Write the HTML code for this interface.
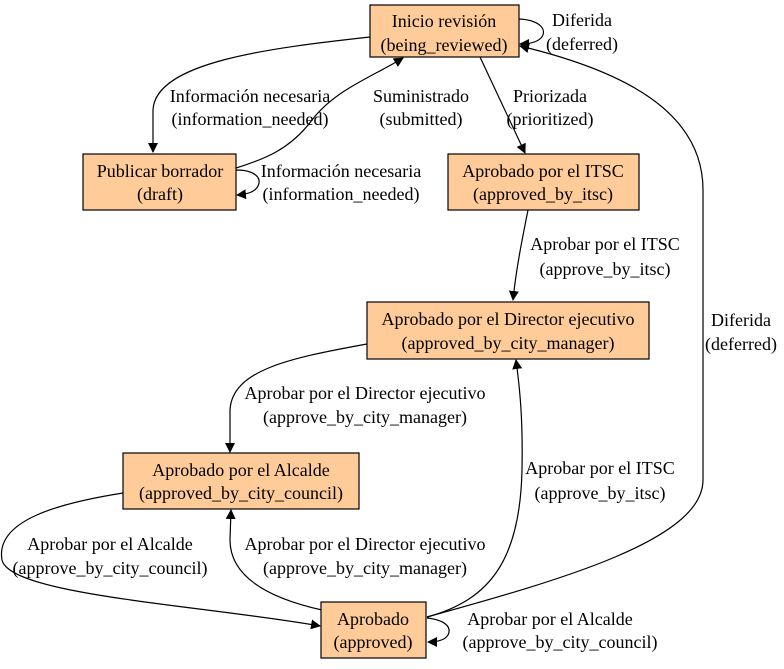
<!DOCTYPE html>
<html><head><meta charset="utf-8"><style>
html,body{margin:0;padding:0;background:#fff;}
</style></head><body>
<svg width="784" height="664" viewBox="0 0 784 664" xmlns="http://www.w3.org/2000/svg">
<defs>
<marker id="a" markerWidth="10" markerHeight="10" refX="9" refY="5" orient="auto" markerUnits="userSpaceOnUse">
<path d="M0,0 L10,5 L0,10 Z" fill="#000"/>
</marker>
</defs>
<g fill="none" stroke="#000" stroke-width="1.2">
<path d="M370,37 C 270,48 155,62 153,110 L153,152" marker-end="url(#a)"/>
<path d="M236,168 C 262,160 290,150 312,120 C 335,90 370,78 403,58" marker-end="url(#a)"/>
<path d="M519,19 C 540,20 548,30 541,38 C 537,42 530,44 520,44" marker-end="url(#a)"/>
<path d="M236,170 C 255,170 262,178 258,186 C 255,192 248,194 237,195" marker-end="url(#a)"/>
<path d="M480,57 L525,153" marker-end="url(#a)"/>
<path d="M528,210 C 522,240 516,270 513,300" marker-end="url(#a)"/>
<path d="M367,344 C 290,358 232,370 230,410 L230,452" marker-end="url(#a)"/>
<path d="M123,493 C 60,503 -5,520 2,560 C 10,595 200,605 320,626" marker-end="url(#a)"/>
<path d="M322,610 C 255,595 230,570 230,540 L231,510" marker-end="url(#a)"/>
<path d="M427,617 C 490,600 520,560 522,470 C 523,420 520,390 516,360" marker-end="url(#a)"/>
<path d="M427,617 C 560,580 703,540 703,480 L703,190 C 703,110 620,70 520,46" marker-end="url(#a)"/>
<path d="M427,618 C 445,620 452,627 448,635 C 445,640 438,642 428,642" marker-end="url(#a)"/>
</g>
<g fill="#ffcc99" stroke="#000" stroke-width="1.2">
<rect x="370" y="5" width="149" height="52"/>
<rect x="83" y="154" width="153" height="56"/>
<rect x="448" y="154" width="191" height="56"/>
<rect x="367" y="302" width="282" height="57"/>
<rect x="123" y="453" width="236" height="56"/>
<rect x="321" y="602" width="105" height="56"/>
</g>
<g text-anchor="middle" font-family="Liberation Serif, serif" font-size="18" fill="#000">
<text x="444" y="27">Inicio revisión</text><text x="444" y="51">(being_reviewed)</text>
<text x="160" y="177">Publicar borrador</text><text x="160" y="200">(draft)</text>
<text x="543" y="177">Aprobado por el ITSC</text><text x="543" y="200">(approved_by_itsc)</text>
<text x="508" y="325">Aprobado por el Director ejecutivo</text><text x="508" y="349">(approved_by_city_manager)</text>
<text x="241" y="476">Aprobado por el Alcalde</text><text x="241" y="499">(approved_by_city_council)</text>
<text x="373" y="625">Aprobado</text><text x="373" y="648">(approved)</text>

<text x="582" y="26">Diferida</text><text x="582" y="50">(deferred)</text>
<text x="250" y="102">Información necesaria</text><text x="250" y="125">(information_needed)</text>
<text x="421" y="102">Suministrado</text><text x="421" y="125">(submitted)</text>
<text x="550" y="102">Priorizada</text><text x="550" y="125">(prioritized)</text>
<text x="341" y="177">Información necesaria</text><text x="341" y="200">(information_needed)</text>
<text x="605" y="250">Aprobar por el ITSC</text><text x="605" y="275">(approve_by_itsc)</text>
<text x="741" y="326">Diferida</text><text x="741" y="350">(deferred)</text>
<text x="365" y="399">Aprobar por el Director ejecutivo</text><text x="365" y="423">(approve_by_city_manager)</text>
<text x="600" y="474">Aprobar por el ITSC</text><text x="600" y="499">(approve_by_itsc)</text>
<text x="110" y="550">Aprobar por el Alcalde</text><text x="110" y="574">(approve_by_city_council)</text>
<text x="365" y="550">Aprobar por el Director ejecutivo</text><text x="365" y="574">(approve_by_city_manager)</text>
<text x="550" y="625">Aprobar por el Alcalde</text><text x="560" y="648">(approve_by_city_council)</text>
</g>
</svg>
</body></html>
